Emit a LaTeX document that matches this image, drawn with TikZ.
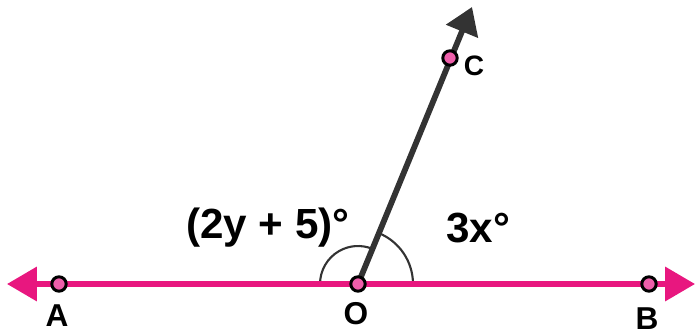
\documentclass[tikz,border=0pt]{standalone}
\usepackage{fontspec}
\setmainfont{Liberation Sans}
\usetikzlibrary{arrows.meta}
\definecolor{pinkline}{HTML}{E8177F}
\definecolor{ptfill}{HTML}{EE5EAA}
\definecolor{raygray}{HTML}{333333}
\begin{document}
\begin{tikzpicture}[x=0.02cm,y=0.02cm,
  pt/.style={circle,draw=black,line width=1.7pt,fill=ptfill,inner sep=0pt,minimum size=8.2pt},
  lbl/.style={font=\fontsize{18}{20}\selectfont\bfseries,inner sep=0pt},
  anglbl/.style={font=\fontsize{24}{28}\selectfont\bfseries,inner sep=0pt},
  pinkln/.style={draw=pinkline,line width=3pt},
  rayln/.style={draw=raygray,line width=3.3pt},
  arcln/.style={draw=raygray,line width=1.2pt}]
\useasboundingbox (0,0) rectangle (695,335);
% coordinates
\coordinate (L) at (7,51);
\coordinate (R) at (695,51);
\coordinate (T) at (472,328);
\coordinate (O) at (358,51);
% arcs
\draw[arcln] ([shift={(180:0.76cm)}]O) arc[start angle=180,end angle=67.7,radius=0.76cm];
\draw[arcln] ([shift={(0:1.1cm)}]O) arc[start angle=0,end angle=67.7,radius=1.1cm];
% lines
\draw[pinkln,{Triangle[length=17pt,width=19pt]}-{Triangle[length=17pt,width=19pt]}] (L) -- (R);
\draw[rayln,-{Triangle[length=15pt,width=19pt]}] (O) -- (T);
% points
\node[pt] (A) at (59,51) {};
\node[pt] (B) at (649,51) {};
\node[pt] (Op) at (O) {};
\node[pt] (C) at (450,277) {};
% labels
\node[lbl] (la) at (57,19) {A};
\node[lbl] (lb) at (647,16) {B};
\node[lbl] (lo) at (356,21) {O};
\node[lbl,font=\fontsize{16}{18}\selectfont\bfseries] (lc) at (474,269) {C};
\node[anglbl] (ang1) at (268,107) {(2y + 5)°};
\node[anglbl] (ang2) at (478,107) {3x°};
\end{tikzpicture}
\end{document}
